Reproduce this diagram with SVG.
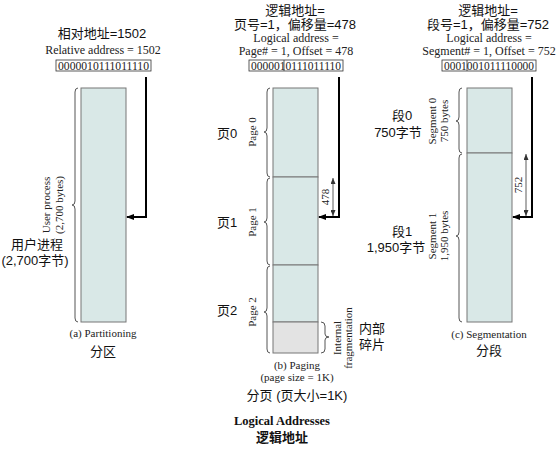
<svg xmlns="http://www.w3.org/2000/svg" width="560" height="450" viewBox="0 0 560 450">
<style>
.cn{font-family:"Liberation Sans","Noto Sans CJK SC",sans-serif;font-size:13px;fill:#111}
.sf{font-family:"Liberation Serif","Noto Sans CJK SC",serif;font-size:11px;fill:#222}
.st{font-family:"Liberation Serif",serif;font-size:12px;fill:#222}
.bin{font-family:"Liberation Serif",serif;font-size:11.5px;fill:#222}
.box{fill:#fff;stroke:#333;stroke-width:0.8}
.mem{fill:#d9e8e7;stroke:#777;stroke-width:1}
.frag{fill:#e3e3e3;stroke:#777;stroke-width:1}
.brace{fill:none;stroke:#555;stroke-width:1}
.arr{fill:none;stroke:#000;stroke-width:2}
.dim{fill:none;stroke:#333;stroke-width:0.8}
</style>
<defs>
<marker id="ah" markerWidth="8" markerHeight="6" refX="7" refY="3" orient="auto" markerUnits="userSpaceOnUse"><path d="M0,0 L8,3 L0,6 z" fill="#000"/></marker>
<marker id="dh" markerWidth="6" markerHeight="5" refX="6" refY="2.5" orient="auto-start-reverse" markerUnits="userSpaceOnUse"><path d="M0,0 L6,2.5 L0,5 z" fill="#333"/></marker>
</defs>

<g id="partitioning">
<text class="cn" x="102" y="38" text-anchor="middle">相对地址=1502</text>
<text class="st" x="103" y="54" text-anchor="middle">Relative address = 1502</text>
<rect class="box" x="56" y="60" width="95" height="11"/>
<text class="bin" x="103.5" y="69.5" text-anchor="middle" textLength="91" lengthAdjust="spacingAndGlyphs">0000010111011110</text>
<rect class="mem" x="81" y="88" width="45" height="234"/>
<path class="brace" d="M78,88 Q75,88 75,92 L75,201 Q75,205 72,205 Q75,205 75,209 L75,318 Q75,322 78,322"/>
<text class="sf" transform="translate(50,205) rotate(-90)" text-anchor="middle">User process</text>
<text class="sf" transform="translate(63,205) rotate(-90)" text-anchor="middle">(2,700 bytes)</text>
<text class="cn" x="37" y="249" text-anchor="middle">用户进程</text>
<text class="cn" x="35" y="265" text-anchor="middle">(2,700字节)</text>
<text class="sf" x="103" y="337" text-anchor="middle">(a) Partitioning</text>
<text class="cn" x="103" y="356" text-anchor="middle">分区</text>
</g>

<g id="paging">
<text class="cn" x="295" y="15" text-anchor="middle">逻辑地址=</text>
<text class="cn" x="295" y="29" text-anchor="middle">页号=1，偏移量=478</text>
<text class="st" x="296" y="42" text-anchor="middle">Logical address =</text>
<text class="st" x="296" y="55" text-anchor="middle">Page# = 1, Offset = 478</text>
<rect class="box" x="249" y="60" width="94" height="11"/>
<line class="box" x1="284" y1="60" x2="284" y2="71"/>
<text class="bin" x="296" y="69.5" text-anchor="middle" textLength="90" lengthAdjust="spacingAndGlyphs">0000010111011110</text>
<rect class="mem" x="273" y="88" width="45" height="89"/>
<rect class="mem" x="273" y="177" width="45" height="88"/>
<rect class="mem" x="273" y="265" width="45" height="57"/>
<rect class="frag" x="273" y="322" width="45" height="31"/>
<path class="brace" d="M270,88 Q267,88 267,92 L267,128 Q267,132 264,132 Q267,132 267,136 L267,173 Q267,177 270,177"/>
<path class="brace" d="M270,178 Q267,178 267,182 L267,218 Q267,222 264,222 Q267,222 267,226 L267,261 Q267,265 270,265"/>
<path class="brace" d="M270,266 Q267,266 267,270 L267,308 Q267,312 264,312 Q267,312 267,316 L267,349 Q267,353 270,353"/>
<text class="sf" transform="translate(256,132) rotate(-90)" text-anchor="middle">Page 0</text>
<text class="sf" transform="translate(256,222) rotate(-90)" text-anchor="middle">Page 1</text>
<text class="sf" transform="translate(256,312) rotate(-90)" text-anchor="middle">Page 2</text>
<text class="cn" x="227" y="138" text-anchor="middle">页0</text>
<text class="cn" x="227" y="227" text-anchor="middle">页1</text>
<text class="cn" x="227" y="315" text-anchor="middle">页2</text>
<path class="brace" d="M321,322 Q325,322 325,326 L325,334 Q325,337 329,337 Q325,337 325,340 L325,349 Q325,353 321,353"/>
<text class="sf" transform="translate(341,338) rotate(-90)" text-anchor="middle">Internal</text>
<text class="sf" transform="translate(352,338) rotate(-90)" text-anchor="middle">fragmentation</text>
<text class="cn" x="372" y="333" text-anchor="middle">内部</text>
<text class="cn" x="372" y="349" text-anchor="middle">碎片</text>
<text class="sf" x="297" y="369" text-anchor="middle">(b) Paging</text>
<text class="sf" x="297" y="381" text-anchor="middle">(page size = 1K)</text>
<text class="cn" x="297" y="400" text-anchor="middle">分页 (页大小=1K)</text>
</g>

<g id="segmentation">
<text class="cn" x="488" y="15" text-anchor="middle">逻辑地址=</text>
<text class="cn" x="488" y="29" text-anchor="middle">段号=1，偏移量=752</text>
<text class="st" x="489" y="42" text-anchor="middle">Logical address =</text>
<text class="st" x="489" y="55" text-anchor="middle">Segment# = 1, Offset = 752</text>
<rect class="box" x="442" y="60" width="94" height="11"/>
<line class="box" x1="467" y1="60" x2="467" y2="71"/>
<text class="bin" x="489" y="69.5" text-anchor="middle" textLength="90" lengthAdjust="spacingAndGlyphs">0001001011110000</text>
<rect class="mem" x="467" y="88" width="45" height="65"/>
<rect class="mem" x="467" y="153" width="45" height="169"/>
<path class="brace" d="M462,88 Q459,88 459,92 L459,117 Q459,121 456,121 Q459,121 459,125 L459,149 Q459,153 462,153"/>
<path class="brace" d="M462,154 Q459,154 459,158 L459,232 Q459,236 456,236 Q459,236 459,240 L459,318 Q459,322 462,322"/>
<text class="sf" transform="translate(436,121) rotate(-90)" text-anchor="middle">Segment 0</text>
<text class="sf" transform="translate(448,121) rotate(-90)" text-anchor="middle">750 bytes</text>
<text class="sf" transform="translate(436,236) rotate(-90)" text-anchor="middle">Segment 1</text>
<text class="sf" transform="translate(448,236) rotate(-90)" text-anchor="middle">1,950 bytes</text>
<text class="cn" x="402" y="120" text-anchor="middle">段0</text>
<text class="cn" x="398" y="137" text-anchor="middle">750字节</text>
<text class="cn" x="402" y="236" text-anchor="middle">段1</text>
<text class="cn" x="396" y="252" text-anchor="middle">1,950字节</text>
<text class="sf" x="489" y="338" text-anchor="middle">(c) Segmentation</text>
<text class="cn" x="489" y="355" text-anchor="middle">分段</text>
</g>

<g id="connectors">
<path class="arr" d="M146,77 L146,217 L127,217" marker-end="url(#ah)"/>
<path class="arr" d="M339,77 L339,217 L319,217" marker-end="url(#ah)"/>
<path class="arr" d="M532,77 L532,217 L513,217" marker-end="url(#ah)"/>
<line class="dim" x1="333" y1="178" x2="333" y2="216" marker-start="url(#dh)" marker-end="url(#dh)"/>
<line class="dim" x1="526" y1="154" x2="526" y2="216" marker-start="url(#dh)" marker-end="url(#dh)"/>
<text class="sf" transform="translate(329,197) rotate(-90)" text-anchor="middle">478</text>
<text class="sf" transform="translate(522,185) rotate(-90)" text-anchor="middle">752</text>
</g>

<g id="title">
<text x="282" y="425" text-anchor="middle" style="font-family:'Liberation Serif',serif;font-weight:bold;font-size:12.5px;fill:#111">Logical Addresses</text>
<text x="282" y="442" text-anchor="middle" style="font-family:'Noto Sans CJK SC',sans-serif;font-weight:bold;font-size:13px;fill:#111">逻辑地址</text>
</g>
</svg>
